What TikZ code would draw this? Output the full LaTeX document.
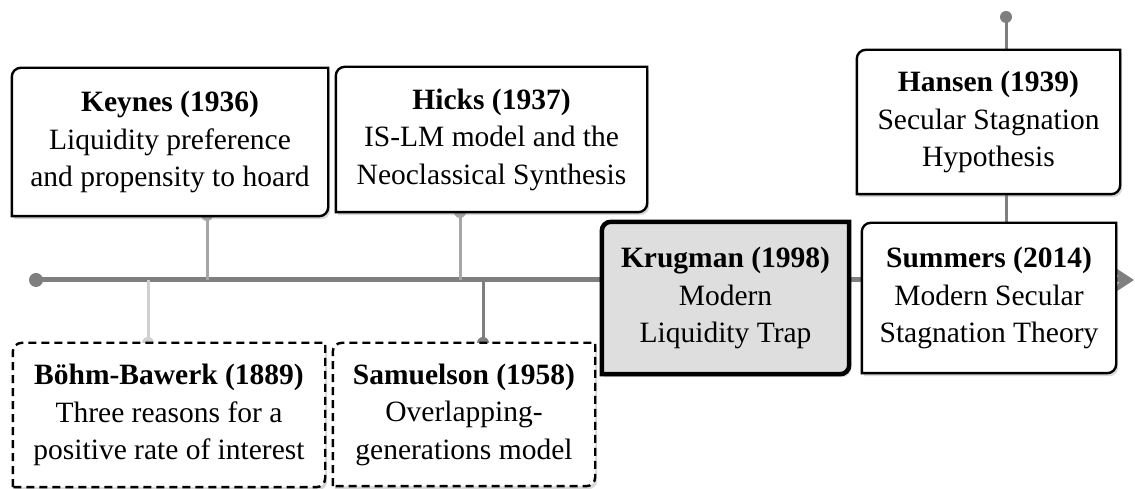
\documentclass[tikz,border=0pt]{standalone}
\usepackage{fontspec}
\setmainfont{Liberation Serif}
\usepackage{tikz}
\usetikzlibrary{arrows.meta,positioning,calc,shadows}
\definecolor{lineGray}{HTML}{7F7F7F}
\definecolor{stemLight}{HTML}{A6A6A6}
\definecolor{stemPale}{HTML}{D0D0D0}
\definecolor{boxGray}{HTML}{DEDEDE}
\pgfdeclarelayer{back}
\pgfdeclarelayer{mid}
\pgfsetlayers{back,mid,main}
\newcommand{\rc}{9pt}
% frame with two rounded corners (top left, bottom right)
\newcommand{\diagframe}[2][]{%
  \draw[#1] (#2.south west) -- ([yshift=-\rc]#2.north west)
    arc[start angle=180, end angle=90, radius=\rc] -- (#2.north east)
    -- ([yshift=\rc]#2.south east)
    arc[start angle=0, end angle=-90, radius=\rc] -- cycle;}
\tikzset{
  tl/event/.style={align=center, inner sep=0pt, text=black,
    font=\fontsize{29.5}{37.5}\selectfont},
  tl/frame/.style={line width=2.4pt, fill=white,
    drop shadow={opacity=0.3, shadow xshift=2pt, shadow yshift=-3pt}},
  tl/dashframe/.style={tl/frame, dash pattern=on 8pt off 5pt},
  tl/keyframe/.style={tl/frame, line width=4.5pt, fill=boxGray},
  tl/axis/.style={line width=5pt, draw=lineGray},
  tl/stem/.style={line width=3pt},
  tl/dot/.style={circle, inner sep=0pt, minimum size=12pt}
}

\begin{document}
\begin{tikzpicture}[x=1pt, y=1pt]
\useasboundingbox (0,0) rectangle (1135,489);

% events
\node[tl/event, minimum width=316pt, minimum height=148pt] (keynes) at (170,347)
  {\textbf{Keynes (1936)}\\Liquidity preference\\and propensity to hoard};
\node[tl/event, minimum width=311pt, minimum height=145pt] (hicks) at (491.5,349.5)
  {\textbf{Hicks (1937)}\\IS-LM model and the\\Neoclassical Synthesis};
\node[tl/event, minimum width=312pt, minimum height=144pt] (bohm) at (169,74)
  {\textbf{Böhm-Bawerk (1889)}\\Three reasons for a\\positive rate of interest};
\node[tl/event, minimum width=262pt, minimum height=143pt] (samuelson) at (464,74.5)
  {\textbf{Samuelson (1958)}\\Overlapping-\\generations model};
\node[tl/event, minimum width=247pt, minimum height=152pt] (krugman) at (725.5,191)
  {\textbf{Krugman (1998)}\\Modern\\Liquidity Trap};
\node[tl/event, minimum width=254pt, minimum height=150pt] (summers) at (989,191)
  {\textbf{Summers (2014)}\\Modern Secular\\Stagnation Theory};
\node[tl/event, minimum width=263pt, minimum height=144pt] (hansen) at (988.5,367)
  {\textbf{Hansen (1939)}\\Secular Stagnation\\Hypothesis};

\begin{pgfonlayer}{mid}
  \diagframe[tl/frame]{keynes}
  \diagframe[tl/frame]{hicks}
  \diagframe[tl/dashframe]{bohm}
  \diagframe[tl/dashframe]{samuelson}
  \diagframe[tl/keyframe]{krugman}
  \diagframe[tl/frame]{summers}
  \diagframe[tl/frame]{hansen}
\end{pgfonlayer}

\begin{pgfonlayer}{back}
  % time axis
  \node[tl/dot, fill=lineGray, minimum size=14pt] (start) at (36,209) {};
  \coordinate (tend) at (1134,209);
  \draw[tl/axis, -{Stealth[length=20pt, width=26pt, inset=6pt]}] (start.center) -- (tend);

  % stems
  \node[tl/dot, fill=stemLight] (kdot) at (207,274) {};
  \node[tl/dot, fill=stemLight] (hdot) at (460,277) {};
  \node[tl/dot, fill=stemPale] (bdot) at (148,146) {};
  \node[tl/dot, fill=lineGray] (sdot) at (483,146) {};
  \node[tl/dot, fill=lineGray] (ndot) at (1006,472) {};
  \draw[tl/stem, stemLight] (kdot.center) -- (kdot |- start);
  \draw[tl/stem, stemLight] (hdot.center) -- (hdot |- start);
  \draw[tl/stem, stemPale] (bdot.center) -- (bdot |- start);
  \draw[tl/stem, lineGray] (sdot.center) -- (sdot |- start);
  \draw[tl/stem, lineGray] (ndot.center) -- (ndot |- summers.north);
\end{pgfonlayer}

\end{tikzpicture}
\end{document}
